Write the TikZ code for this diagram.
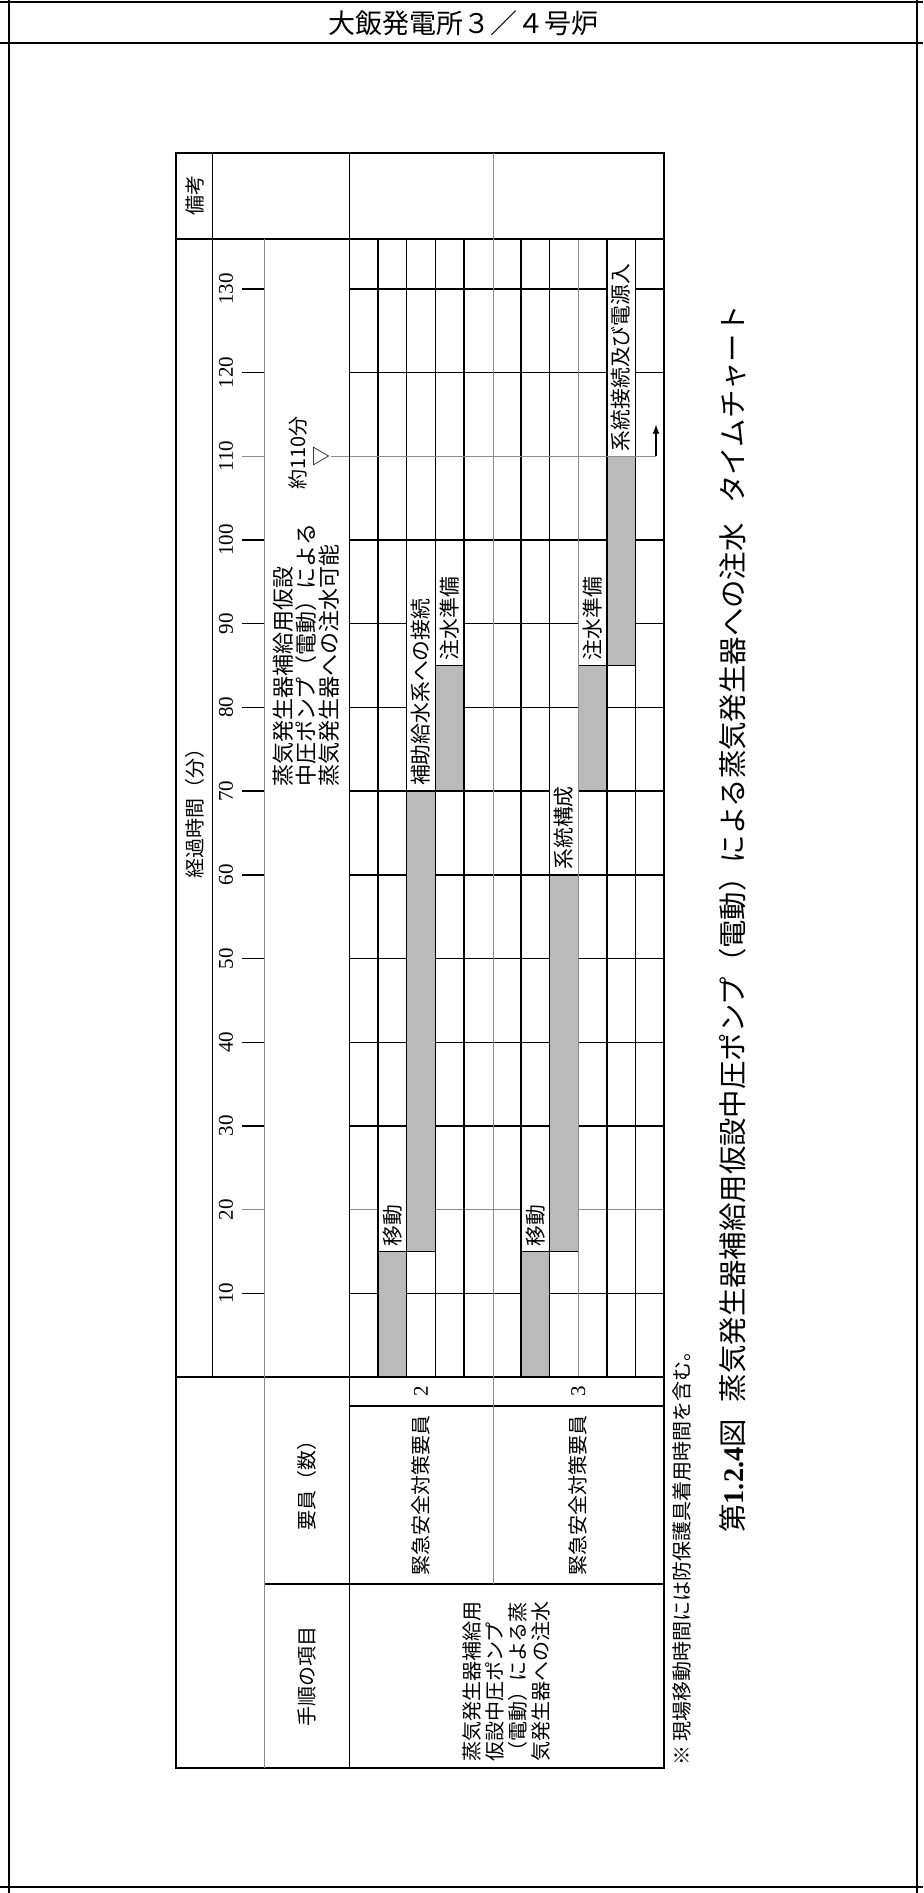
\documentclass[tikz,border=0pt]{standalone}
\usepackage{fontspec}
\setmainfont{Liberation Serif}
\newfontfamily\jp{Noto Sans CJK JP}
\usetikzlibrary{positioning}

\begin{document}
\begin{tikzpicture}[x=0.5pt,y=-0.5pt,
  frame/.style={line width=1pt},
  rule/.style={line width=0.7pt},
  faint/.style={line width=0.45pt,black!45},
  txt/.style={rotate=90,inner sep=0pt,font=\jp\fontsize{10}{11.5}\selectfont},
  num/.style={rotate=90,inner sep=0pt,font=\fontsize{10.5}{12}\selectfont},
  bar/.style={draw,line width=0.7pt,fill=black!27},
  tag/.style={rotate=90,anchor=west,fill=white,inner xsep=2pt,inner ysep=0pt,minimum height=14pt,font=\jp\fontsize{10.4}{12}\selectfont}]
\useasboundingbox (0,0) rectangle (923,1893);

\draw[frame] (0,2) -- (923,2) (0,43) -- (923,43) (0,1887) -- (923,1887) (9,0) -- (9,1893) (917,0) -- (917,1893);
\node[font=\jp\fontsize{13.5}{15}\selectfont] (title) at (463,23) {大飯発電所３／４号炉};

\begin{scope}[shift={(0,1377)},y=4.185pt]
  \foreach \t in {10,30,40,50,60,70,80,90,100,120,130}
    \draw[rule] (242,\t) -- (264,\t) (349.4,\t) -- (664,\t);
  \draw[faint] (242,20) -- (264,20) (349.4,20) -- (664,20) (242,110) -- (264,110);
  \foreach \t in {10,20,...,130}
    \node[num] (n\t) at (226,\t) {\t};

  \foreach \k/\a/\b in {2/0/15,3/15/70,4/70/85,7/0/15,8/15/60,9/70/85,10/85/110}
    \draw[bar] ({349.4+28.6*(\k-1)},\a) rectangle ({349.4+28.6*\k},\b);
  \foreach \k/\a/\s [count=\n] in {2/15/移動,3/70/補助給水系への接続,4/85/注水準備,7/15/移動,8/60/系統構成,9/85/注水準備,10/110/系統接続及び電源入}
    \node[tag] (tag\n) at ({349.4+28.6*(\k-0.5)},{\a+0.1}) {\s};

  \foreach \k in {1,2,3,4,6,7,9,10}
    \draw[rule] ({349.4+28.6*\k},0) -- ({349.4+28.6*\k},136);
  \draw[faint] (578.2,0) -- (578.2,136);

  \node[txt] (yaku) at (298,110.4) {約110分};
  \node[txt] (tri) at (322,110) {▽};
  \coordinate (mark) at (656,110);
  \coordinate (tip) at (656,113.8);
  \draw[faint] (tri.south) -- (mark);
  \draw[-latex,line width=0.6pt] (mark) -- (tip);
  \node[txt,anchor=west,align=left,font=\jp\fontsize{11}{11.5}\selectfont] (kanou) at (306.5,70.5) {蒸気発生器補給用仮設\\中圧ポンプ（電動）による\\蒸気発生器への注水可能};
\end{scope}

\draw[rule] (176,153) rectangle (664,1768);
\draw[rule] (176,239) -- (664,239) (176,1377) -- (664,1377) (349.4,1406) -- (664,1406) (264,1584) -- (664,1584)
  (212.4,153) -- (212.4,1377) (349.4,153) -- (349.4,1768);
\draw[faint] (264,239) -- (264,1768) (493.4,153) -- (493.4,1584);

\node[txt] (bikou) at (194.5,196) {備考};
\node[txt] (keika) at (194.5,808) {経過時間（分）};
\node[num] (two) at (421,1391.5) {2};
\node[num] (three) at (578.2,1391.5) {3};
\node[txt] (staff1) at (421,1495) {緊急安全対策要員};
\node[txt] (staff2) at (578.2,1495) {緊急安全対策要員};
\node[txt] (youin) at (306.5,1480) {要員（数）};
\node[txt] (tejun) at (306.5,1676) {手順の項目};
\node[txt,anchor=west,align=left] (proc) at (506.5,1762) {蒸気発生器補給用\\仮設中圧ポンプ\\（電動）による蒸\\気発生器への注水};
\node[txt,anchor=west] (note) at (682,1766) {※ 現場移動時間には防保護具着用時間を含む。};
\node[txt,anchor=west,font=\jp\fontsize{14.2}{16}\selectfont] (caption) at (733,1533) {第{\rmfamily\bfseries 1.2.4}図\hspace{0.6em}蒸気発生器補給用仮設中圧ポンプ（電動）による蒸気発生器への注水\hspace{0.7em}タイムチャート};
\end{tikzpicture}
\end{document}
